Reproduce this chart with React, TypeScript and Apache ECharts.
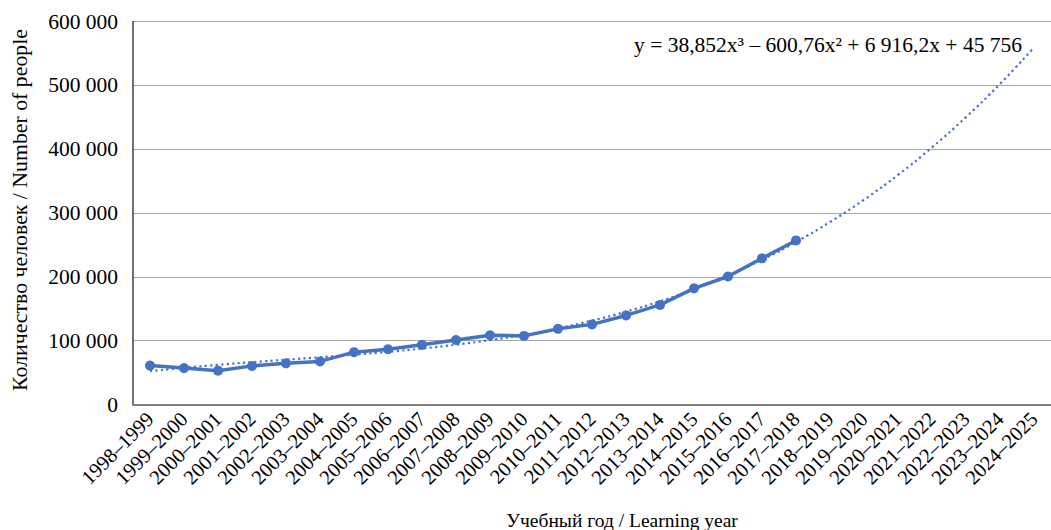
import React, { useEffect, useRef } from "react";
import * as echarts from "echarts";

const categories = [
  "1998–1999", "1999–2000", "2000–2001", "2001–2002", "2002–2003", "2003–2004",
  "2004–2005", "2005–2006", "2006–2007", "2007–2008", "2008–2009", "2009–2010",
  "2010–2011", "2011–2012", "2012–2013", "2013–2014", "2014–2015", "2015–2016",
  "2016–2017", "2017–2018", "2018–2019", "2019–2020", "2020–2021", "2021–2022",
  "2022–2023", "2023–2024", "2024–2025",
];

const people = [
  61000, 57000, 53000, 60500, 64500, 67500, 82000, 86500, 93500, 101000,
  108500, 107500, 118500, 125500, 139500, 156000, 182000, 200500, 229000, 257000,
];

// Polynomial trend line (3rd order) values at each category, as drawn
const trend = [
  52110, 57496, 62147, 66295, 70175, 74018, 78058, 82529, 87663, 93694,
  100854, 109377, 119496, 131446, 145454, 161758, 180592, 202187, 226779, 254592,
  285869, 320848, 359749, 402807, 450249, 502308, 559257,
];

const yTicks = { min: 0, max: 600000, interval: 100000 };

const equation = "y = 38,852x³ – 600,76x² + 6 916,2x + 45 756";
const yTitle = "Количество человек / Number of people";
const xTitle = "Учебный год / Learning year";

const FONT = "'Liberation Serif', 'Times New Roman', serif";
const BLUE = "#4472C4";

function fmt(v: number): string {
  return String(v).replace(/\B(?=(\d{3})+(?!\d))/g, " ");
}

export default function App() {
  const ref = useRef<HTMLDivElement>(null);
  useEffect(() => {
    document.body.style.margin = "0";
    if (!ref.current) return;
    const chart = echarts.init(ref.current, null, { renderer: "svg" });
    chart.setOption({
      animation: false,
      backgroundColor: "#ffffff",
      grid: { left: 133, right: -10, top: 21.5, bottom: 125.5, containLabel: false },
      xAxis: {
        type: "category",
        data: categories,
        boundaryGap: true,
        axisLine: { show: true, lineStyle: { color: "#808080", width: 2 } },
        axisTick: { show: false },
        axisLabel: {
          interval: 0,
          rotate: 45,
          margin: 11,
          color: "#000",
          fontFamily: FONT,
          fontSize: 20.5,
        },
      },
      yAxis: {
        type: "value",
        min: yTicks.min,
        max: yTicks.max,
        interval: yTicks.interval,
        axisLine: { show: true, lineStyle: { color: "#404040", width: 1.5 } },
        axisTick: { show: false },
        splitLine: { show: true, lineStyle: { color: "#a6a6a6", width: 1 } },
        axisLabel: {
          formatter: (v: number) => fmt(v),
          color: "#000",
          fontFamily: FONT,
          fontSize: 21.5,
          margin: 15,
        },
      },
      series: [
        {
          type: "line",
          data: people,
          symbol: "circle",
          symbolSize: 10,
          itemStyle: { color: BLUE },
          lineStyle: { color: BLUE, width: 3.5 },
          z: 2,
        },
        {
          type: "line",
          data: trend,
          symbol: "none",
          smooth: true,
          lineStyle: { color: BLUE, width: 2.2, type: [2.2, 3.3], cap: "butt" },
          z: 3,
        },
      ],
      graphic: [
        {
          type: "text",
          right: 1051 - 1022,
          top: 34,
          style: { text: equation, font: `21.5px ${FONT}`, fill: "#000" },
        },
        {
          type: "text",
          x: 20,
          y: 210,
          rotation: Math.PI / 2,
          style: {
            text: yTitle,
            font: `21.8px ${FONT}`,
            fill: "#000",
            align: "center",
            verticalAlign: "middle",
          },
        },
        {
          type: "text",
          x: 622,
          y: 520,
          style: {
            text: xTitle,
            font: `19.5px ${FONT}`,
            fill: "#000",
            align: "center",
            verticalAlign: "middle",
          },
        },
      ],
    });
    return () => chart.dispose();
  }, []);
  return <div ref={ref} style={{ width: 1051, height: 530 }} />;
}
